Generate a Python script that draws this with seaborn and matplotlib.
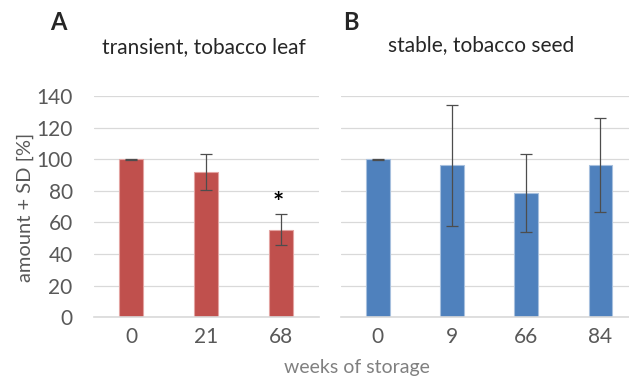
import matplotlib
matplotlib.use("Agg")
import matplotlib.pyplot as plt
import seaborn as sns
import pandas as pd

# Panel A: transient expression in tobacco leaf
weeks_a = ["0", "21", "68"]
amount_a = [100, 92, 55.5]
sd_a = [0.3, 11.5, 10]

# Panel B: stable expression in tobacco seed
weeks_b = ["0", "9", "66", "84"]
amount_b = [100, 96.3, 78.5, 96.3]
sd_b = [0.3, 38.3, 24.5, 30]

y_ticks = [0, 20, 40, 60, 80, 100, 120, 140]

RED = "#C0504D"
BLUE = "#4F81BD"
GRID = "#D9D9D9"
TICK_GRAY = "#595959"
LABEL_GRAY = "#808080"

sns.set_theme(style="white")
plt.rcParams["font.family"] = ["Lato", "DejaVu Sans"]

W, H = 629, 381
fig = plt.figure(figsize=(W / 100, H / 100), dpi=100)


def px_axes(left, right, top, bottom):
    return fig.add_axes([left / W, 1 - bottom / H, (right - left) / W, (bottom - top) / H])


ax_a = px_axes(93.5, 318.5, 96, 317.3)
ax_b = px_axes(340.7, 637.5, 96, 317.3)


def draw_panel(ax, weeks, amount, sd, color, edge):
    df = pd.DataFrame({"weeks": weeks, "amount": amount})
    sns.barplot(data=df, x="weeks", y="amount", color=color, saturation=1,
                width=0.32, edgecolor=edge, linewidth=0.8, ax=ax, zorder=2)
    ax.errorbar(range(len(weeks)), amount, yerr=sd, fmt="none",
                ecolor="#4D4D4D", elinewidth=0.9, capsize=4.3, capthick=0.9, zorder=3)
    ax.set_ylim(0, 140)
    ax.set_xlim(-0.5, len(weeks) - 0.5)
    ax.set_yticks(y_ticks)
    ax.yaxis.grid(True, color=GRID, linewidth=0.9, zorder=0)
    ax.set_axisbelow(True)
    for side in ["top", "right", "left"]:
        ax.spines[side].set_visible(False)
    ax.spines["bottom"].set_color(GRID)
    ax.spines["bottom"].set_linewidth(1.2)
    ax.tick_params(axis="both", length=0, colors=TICK_GRAY, labelsize=15)
    ax.tick_params(axis="y", pad=15)
    ax.tick_params(axis="x", pad=7)
    ax.set_xlabel("")
    ax.set_ylabel("")
    ax.patch.set_alpha(0)


draw_panel(ax_a, weeks_a, amount_a, sd_a, RED, "#E3A3A1")
draw_panel(ax_b, weeks_b, amount_b, sd_b, BLUE, "#A7C0DE")
ax_b.set_yticklabels([])

# significance marker above the 68-week bar
ax_a.text(2 - 0.04, amount_a[2] + sd_a[2] - 1, "*", ha="center", va="bottom",
          fontsize=19, fontweight="bold", color="black")

fig.text(58 / W, 1 - 23 / H, "A", ha="center", va="center", fontsize=17, fontweight="bold")
fig.text(351 / W, 1 - 23 / H, "B", ha="center", va="center", fontsize=17, fontweight="bold")
fig.text(204 / W, 1 - 47 / H, "transient, tobacco leaf", ha="center", va="center", fontsize=15)
fig.text(481.5 / W, 1 - 45 / H, "stable, tobacco seed", ha="center", va="center", fontsize=15)
fig.text(25 / W, 1 - 207.5 / H, "amount + SD [%]", ha="center", va="center",
         rotation=90, fontsize=14.5, color=TICK_GRAY)
fig.text(356.5 / W, 1 - 368 / H, "weeks of storage", ha="center", va="center",
         fontsize=14, color=LABEL_GRAY)

fig.savefig("out.png", dpi=100)
